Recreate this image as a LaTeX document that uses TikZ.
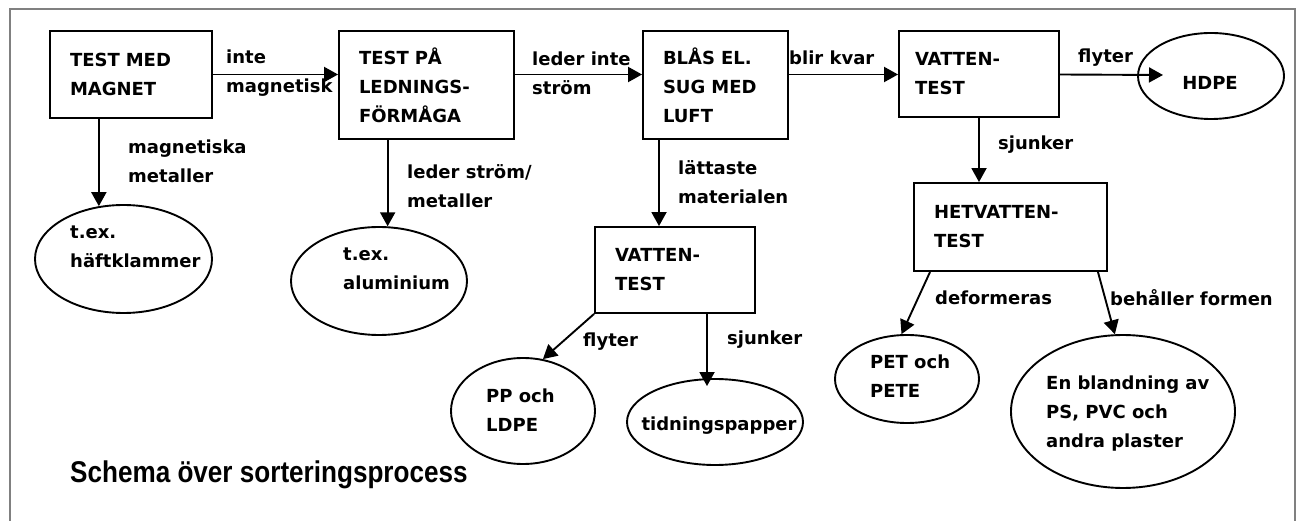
\documentclass[tikz,border=0pt]{standalone}
\usepackage{fontspec}
\usepackage{graphicx}
\setmainfont{DejaVu Sans}
\newfontfamily\titlefont{Liberation Sans}
\usetikzlibrary{shapes.geometric,arrows.meta,calc}
\newcommand\boxfont{\fontsize{18}{29}\selectfont\bfseries}
\tikzset{
  box/.style={draw, line width=1.9, rectangle, inner xsep=20, inner ysep=0, align=left, font=\boxfont},
  oval/.style={draw, line width=1.9, ellipse, inner sep=0},
  lbl/.style={inner sep=0, anchor=west, align=left, font=\boxfont},
  arr/.style={line width=1.9, -{Triangle[length=14,width=15]}},
  frame/.style={draw=gray, line width=1.6},
}
\begin{document}
\begin{tikzpicture}[x=1pt,y=-1pt]
\useasboundingbox (0,0) rectangle (1302,521);
\draw[frame] (10,521) -- (10,9) -- (1295,9) -- (1295,521);

% boxes
\node[box, minimum width=162, minimum height=87, text width=122] (b1) at (131,74.5) {TEST MED\\MAGNET};
\node[box, minimum width=175, minimum height=108, text width=135] (b2) at (426.5,85) {TEST PÅ\\LEDNINGS-\\FÖRMÅGA};
\node[box, minimum width=145, minimum height=108, text width=105] (b3) at (715.5,85) {BLÅS EL.\\SUG MED\\LUFT};
\node[box, inner xsep=16, minimum width=160, minimum height=86, text width=128] (b4) at (979,74) {VATTEN-\\TEST};
\node[box, minimum width=160, minimum height=86, text width=120] (v2) at (675,270) {VATTEN-\\TEST};
\node[box, minimum width=193, minimum height=88, text width=153] (hv) at (1010.5,227) {HETVATTEN-\\TEST};

% ellipses
\node[oval, minimum width=177, minimum height=108] (e1) at (123.5,259) {};
\node[oval, minimum width=176, minimum height=108] (al) at (379,281) {};
\node[oval, minimum width=144, minimum height=106] (pp) at (523,411) {};
\node[oval, minimum width=176, minimum height=86] (td) at (715,422) {};
\node[oval, minimum width=144, minimum height=88] (pet) at (907,379) {};
\node[oval, minimum width=224, minimum height=153] (big) at (1123,411.5) {};
\node[oval, minimum width=146, minimum height=86] (hdpe) at (1211,76) {};

% ellipse texts
\node[lbl] (te1) at (70,247) {t.ex.\\häftklammer};
\node[lbl] (tal) at (343,269) {t.ex.\\aluminium};
\node[lbl] (tpp) at (486,410.5) {PP och\\LDPE};
\node[lbl, anchor=center] (ttd) at (719,426) {tidningspapper};
\node[lbl] (tpet) at (870,376) {PET och\\PETE};
\node[lbl] (tbig) at (1046,414) {En blandning av\\PS, PVC och\\andra plaster};
\node[lbl, anchor=center] (thdpe) at (1210,83) {HDPE};

% connectors
\draw[arr] (b1.east) -- (b1.east -| b2.west);
\draw[arr] (b2.east |- b1.east) -- (b3.west |- b1.east);
\draw[arr] (b3.east |- b1.east) -- (b4.west |- b1.east);
\draw[arr] (b4.east |- b1.east) -- ($(hdpe.center)+(-48,-1)$);
\draw[arr] (b1.south -| e1.115) -- (e1.115);
\draw[arr] (b2.south -| al.81) -- (al.81);
\draw[arr] ([xshift=-56.5]b3.south) -- ([xshift=-56.5]b3.south |- v2.north);
\draw[arr] (b4.south) -- (b4.south |- hv.north);
\draw[arr] (v2.south west) -- (pp.69);
\draw[arr] ([xshift=32]v2.south) -- ($([xshift=32]v2.south |- td.north)+(0,8)$);
\draw[arr] ([xshift=17]hv.south west) -- (pet.97);
\draw[arr] ([xshift=-10]hv.south east) -- (big.96);

% connector labels
\node[lbl] (l1) at (226,73) {inte\\magnetisk};
\node[lbl] (l2) at (532,73) {leder inte\\ström};
\node[lbl] (l3) at (789,58) {blir kvar};
\node[lbl] (l4) at (1078,58) {flyter};
\node[lbl] (l5) at (128,161) {magnetiska\\metaller};
\node[lbl] (l6) at (407,186.5) {leder ström/\\metaller};
\node[lbl] (l7) at (678,182) {lättaste\\materialen};
\node[lbl] (l8) at (998,145) {sjunker};
\node[lbl] (l9) at (583,342) {flyter};
\node[lbl] (l10) at (727,340) {sjunker};
\node[lbl] (l11) at (935,298) {deformeras};
\node[lbl] (l12) at (1110,298) {behåller formen};

% title
\node[inner sep=0, anchor=base west, font=\titlefont\bfseries\fontsize{30}{36}\selectfont] (title) at (70,482) {\scalebox{0.87}[1]{Schema över sorteringsprocess}};
\end{tikzpicture}
\end{document}
